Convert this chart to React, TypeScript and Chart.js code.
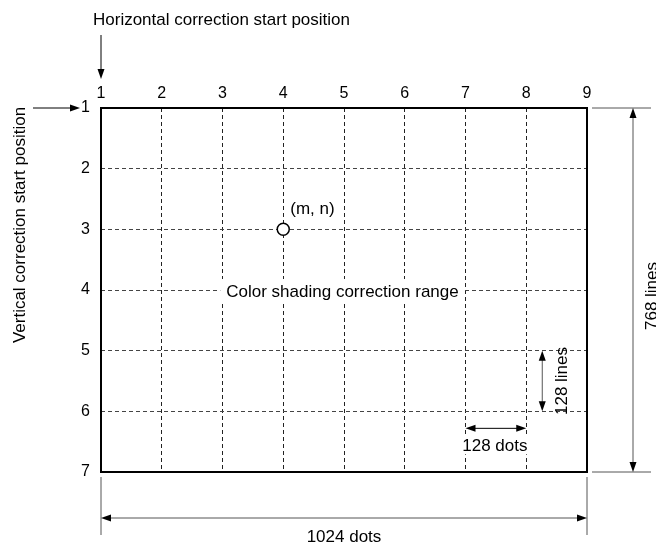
import React, { useEffect, useRef } from "react";
import { Chart, registerables } from "chart.js";

Chart.register(...registerables);

const columnTicks = [1, 2, 3, 4, 5, 6, 7, 8, 9];
const rowTicks = [1, 2, 3, 4, 5, 6, 7];
const pointX = [4];
const pointY = [3];
const pointLabel = "(m, n)";
const topTitle = "Horizontal correction start position";
const leftTitle = "Vertical correction start position";
const rangeLabel = "Color shading correction range";
const dotsLabel = "128 dots";
const linesLabel = "128 lines";
const totalDotsLabel = "1024 dots";
const totalLinesLabel = "768 lines";

const FAMILY = "'Liberation Sans', Arial, sans-serif";
const FONT = "17px " + FAMILY;

function arrowHead(ctx: CanvasRenderingContext2D, x: number, y: number, dir: "up" | "down" | "left" | "right") {
  const L = 10, W = 3.5;
  ctx.beginPath();
  if (dir === "right") { ctx.moveTo(x, y); ctx.lineTo(x - L, y - W); ctx.lineTo(x - L, y + W); }
  if (dir === "left") { ctx.moveTo(x, y); ctx.lineTo(x + L, y - W); ctx.lineTo(x + L, y + W); }
  if (dir === "down") { ctx.moveTo(x, y); ctx.lineTo(x - W, y - L); ctx.lineTo(x + W, y - L); }
  if (dir === "up") { ctx.moveTo(x, y); ctx.lineTo(x - W, y + L); ctx.lineTo(x + W, y + L); }
  ctx.closePath();
  ctx.fill();
}

function line(ctx: CanvasRenderingContext2D, x1: number, y1: number, x2: number, y2: number) {
  ctx.beginPath();
  ctx.moveTo(x1, y1);
  ctx.lineTo(x2, y2);
  ctx.stroke();
}

function rotatedText(ctx: CanvasRenderingContext2D, text: string, baselineX: number, centerY: number) {
  ctx.save();
  ctx.translate(baselineX, centerY);
  ctx.rotate(-Math.PI / 2);
  ctx.textAlign = "center";
  ctx.textBaseline = "alphabetic";
  ctx.fillText(text, 0, 0);
  ctx.restore();
}

const diagramPlugin = {
  id: "diagram",
  beforeDatasetsDraw(chart: any) {
    const { ctx, chartArea, scales } = chart;
    const ys = scales.y;
    ctx.save();
    ctx.font = FONT;
    const w = ctx.measureText(rangeLabel).width;
    const cx = (chartArea.left + chartArea.right) / 2 - 1.5;
    const cy = ys.getPixelForValue(4);
    ctx.fillStyle = "#fff";
    ctx.fillRect(cx - w / 2 - 6, cy - 11, w + 12, 24);
    ctx.fillStyle = "#000";
    ctx.textAlign = "center";
    ctx.textBaseline = "alphabetic";
    ctx.fillText(rangeLabel, cx, cy + 7);
    ctx.restore();
  },
  afterDraw(chart: any) {
    const { ctx, chartArea, scales } = chart;
    const xs = scales.x, ys = scales.y;
    const { left, right, top, bottom } = chartArea;
    ctx.save();
    ctx.strokeStyle = "#000";
    ctx.fillStyle = "#000";
    ctx.font = FONT;
    // frame
    ctx.lineWidth = 2;
    ctx.strokeRect(left, top, right - left, bottom - top);

    ctx.lineWidth = 1;
    ctx.textBaseline = "alphabetic";
    // top title & down arrow
    ctx.textAlign = "left";
    ctx.fillText(topTitle, 93, 25);
    const x1 = xs.getPixelForValue(columnTicks[0]);
    line(ctx, x1, 35, x1, 72);
    arrowHead(ctx, x1, 79, "down");
    // left arrow
    const y1 = ys.getPixelForValue(rowTicks[0]);
    line(ctx, 33, y1, 74, y1);
    arrowHead(ctx, 80, y1, "right");

    // left rotated title
    rotatedText(ctx, leftTitle, 25, 225);

    // point label
    const px = xs.getPixelForValue(pointX[0]);
    const py = ys.getPixelForValue(pointY[0]);
    ctx.textAlign = "left";
    ctx.fillText(pointLabel, px + 7, py - 15);

    // 128 dots
    const x7 = xs.getPixelForValue(7), x8 = xs.getPixelForValue(8);
    const y6 = ys.getPixelForValue(6), y5 = ys.getPixelForValue(5);
    const ad = y6 + 17;
    line(ctx, x7 + 6, ad, x8 - 6, ad);
    arrowHead(ctx, x7, ad, "left");
    arrowHead(ctx, x8, ad, "right");
    ctx.textAlign = "center";
    ctx.fillStyle = "#fff";
    const dw = ctx.measureText(dotsLabel).width;
    ctx.fillRect((x7 + x8) / 2 - dw / 2 - 1, ad + 8, dw + 2, 18);
    ctx.fillStyle = "#000";
    ctx.fillText(dotsLabel, (x7 + x8) / 2 - 1, ad + 23);

    // 128 lines
    const al = x8 + 16;
    ctx.strokeStyle = "#555";
    line(ctx, al, y5 + 6, al, y6 - 6);
    ctx.fillStyle = "#000";
    arrowHead(ctx, al, y5, "up");
    arrowHead(ctx, al, y6, "down");
    rotatedText(ctx, linesLabel, x8 + 41, (y5 + y6) / 2);

    // right dimension
    ctx.strokeStyle = "#555";
    line(ctx, right + 5, top, right + 64, top);
    line(ctx, right + 5, bottom, right + 64, bottom);
    const ar = right + 46;
    line(ctx, ar, top + 6, ar, bottom - 6);
    ctx.fillStyle = "#000";
    arrowHead(ctx, ar, top, "up");
    arrowHead(ctx, ar, bottom, "down");
    rotatedText(ctx, totalLinesLabel, right + 70, (top + bottom) / 2 + 6);

    // bottom dimension
    line(ctx, left, bottom + 5, left, bottom + 63);
    line(ctx, right, bottom + 5, right, bottom + 63);
    const ab = bottom + 46;
    line(ctx, left + 6, ab, right - 6, ab);
    arrowHead(ctx, left, ab, "left");
    arrowHead(ctx, right, ab, "right");
    ctx.textAlign = "center";
    ctx.fillText(totalDotsLabel, (left + right) / 2, bottom + 70);
    ctx.restore();
  },
};

export default function App() {
  const ref = useRef<HTMLCanvasElement>(null);
  useEffect(() => {
    document.body.style.margin = "0";
    const chart = new Chart(ref.current!, {
      type: "scatter",
      data: {
        datasets: [
          {
            data: pointX.map((x, i) => ({ x, y: pointY[i] })),
            pointRadius: 6,
            pointBackgroundColor: "#fff",
            pointBorderColor: "#000",
            pointBorderWidth: 1.5,
          },
        ],
      },
      options: {
        animation: false,
        responsive: false,
        layout: { padding: { left: 0, top: 0, right: 69, bottom: 71 } },
        plugins: { legend: { display: false }, tooltip: { enabled: false } },
        scales: {
          x: {
            type: "linear",
            position: "top",
            min: columnTicks[0],
            max: columnTicks[columnTicks.length - 1],
            afterBuildTicks: (s: any) => { s.ticks = columnTicks.map((v) => ({ value: v })); },
            afterFit: (s: any) => { s.height = 108; },
            ticks: { color: "#000", padding: 5, font: { family: FAMILY, size: 16 }, autoSkip: false, maxRotation: 0 },
            grid: { color: "#222", lineWidth: 1, drawTicks: false },
            border: { display: false, dash: [4, 3] },
          },
          y: {
            type: "linear",
            reverse: true,
            min: rowTicks[0],
            max: rowTicks[rowTicks.length - 1],
            afterBuildTicks: (s: any) => { s.ticks = rowTicks.map((v) => ({ value: v })); },
            afterFit: (s: any) => { s.width = 101; },
            ticks: { color: "#000", padding: 11, font: { family: FAMILY, size: 16 }, autoSkip: false },
            grid: { color: "#444", lineWidth: 1, drawTicks: false },
            border: { display: false, dash: [4, 3] },
          },
        },
      },
      plugins: [diagramPlugin],
    } as any);
    return () => chart.destroy();
  }, []);
  return (
    <div style={{ width: 656, height: 543, background: "#fff" }}>
      <canvas ref={ref} width={656} height={543} style={{ display: "block" }} />
    </div>
  );
}
